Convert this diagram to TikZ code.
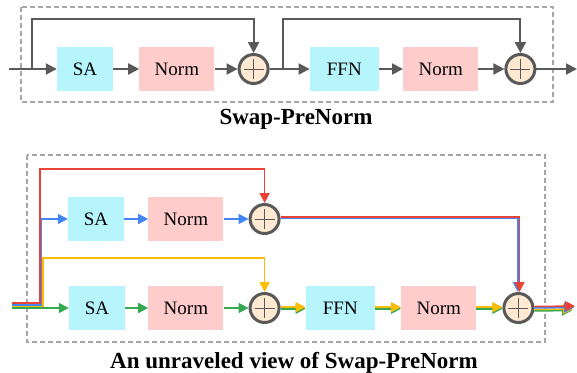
\documentclass[tikz,border=0pt]{standalone}
\usepackage{fontspec}
\setmainfont{Liberation Serif}
\usetikzlibrary{arrows.meta,positioning,calc}
\definecolor{linegray}{RGB}{89,89,89}
\definecolor{boxgray}{RGB}{166,166,166}
\definecolor{sacyan}{RGB}{183,245,252}
\definecolor{normpink}{RGB}{255,204,204}
\definecolor{addfill}{RGB}{255,233,210}
\definecolor{redp}{RGB}{234,67,53}
\definecolor{bluep}{RGB}{66,133,244}
\definecolor{yellowp}{RGB}{251,188,5}
\definecolor{greenp}{RGB}{52,168,83}
\tikzset{
          block/.style={
            minimum height=44pt,
            inner sep=0pt,
            font=\fontsize{19}{22}\selectfont
          },
          sablock/.style={block,fill=sacyan,minimum width=56pt},
          ffnblock/.style={block,fill=sacyan,minimum width=69pt},
          normblock/.style={block,fill=normpink,minimum width=75pt},
          adder/.style={
            circle,draw=linegray,line width=3pt,fill=addfill,
            minimum size=29pt,inner sep=0pt,
            path picture={
              \draw[linegray,line width=0.9pt]
              ([xshift=-10pt]path picture bounding box.center) --
              ([xshift=10pt]path picture bounding box.center)
              ([yshift=-10pt]path picture bounding box.center) --
              ([yshift=10pt]path picture bounding box.center);}
          },
          frame/.style={draw=boxgray,line width=1.1pt,dash pattern=on 5pt off 3pt},
          caption/.style={font=\fontsize{23}{26}\selectfont\bfseries,anchor=base},
          flow/.style={linegray,line width=2pt,-{Triangle[length=11pt,width=11pt]}},
          cflow/.style={line width=1.5pt,-{Triangle[length=10pt,width=10pt]}}
        }
\begin{document}
\begin{tikzpicture}[x=1pt,y=-1pt]
  \useasboundingbox (0,0) rectangle (577,372);

  % Swap-PreNorm
  \draw[frame] (21,7) rectangle (553,102);
  \coordinate (in1) at (9,69);
  \coordinate (br1) at (32,69);
  \coordinate (br2) at (283,69);
  \coordinate (out1) at (577,69);
  \node[sablock] (sa1) at (85,69) {SA};
  \node[normblock,right=26pt of sa1] (norm1) {Norm};
  \node[adder,right=23pt of norm1] (add1) {};
  \node[ffnblock,right=40pt of add1] (ffn1) {FFN};
  \node[normblock,right=24pt of ffn1] (norm2) {Norm};
  \node[adder,right=26pt of norm2] (add2) {};

  \draw[flow] (in1) -- (sa1);
  \draw[flow] (br1) -- ++(0,-50) -| (add1);
  \draw[flow] (sa1) -- (norm1);
  \draw[flow] (norm1) -- (add1);
  \draw[flow] (add1) -- (ffn1);
  \draw[flow] (br2) -- ++(0,-50) -| (add2);
  \draw[flow] (ffn1) -- (norm2);
  \draw[flow] (norm2) -- (add2);
  \draw[flow] (add2) -- (out1);

  \node[caption] (cap1) at (296,124) {Swap-PreNorm};

  % unraveled view
  \draw[frame] (27,155) rectangle (545,342);
  \coordinate (in2) at (12,308);
  \coordinate (out2) at (575,307.5);
  \node[sablock] (sa2) at (96,219) {SA};
  \node[normblock,right=24pt of sa2] (norm3) {Norm};
  \node[adder,right=25pt of norm3] (add3) {};
  \node[sablock] (sa3) at (97,308) {SA};
  \node[normblock,right=23pt of sa3] (norm4) {Norm};
  \node[adder,right=25pt of norm4] (add4) {};
  \node[ffnblock,right=25pt of add4] (ffn2) {FFN};
  \node[normblock,right=26pt of ffn2] (norm5) {Norm};
  \node[adder,right=26pt of norm5] (add5) {};

  % paths in
  \draw[cflow,redp] ($(in2)+(0,-4.8)$) -| (40,169) -| (add3);
  \draw[cflow,bluep] ($(in2)+(0,-3.2)$) -| (41.5,219) -- (sa2);
  \draw[cflow,yellowp] ($(in2)+(0,-1.6)$) -| (43,258) -| (add4);
  \draw[cflow,greenp] (in2) -- (sa3);

  \draw[cflow,bluep] (sa2) -- (norm3);
  \draw[cflow,bluep] (norm3) -- (add3);
  \draw[cflow,greenp] (sa3) -- (norm4);
  \draw[cflow,greenp] (norm4) -- (add4);

  % shared path
  \foreach \a/\b in {add4/ffn2,ffn2/norm5,norm5/add5}{
    \draw[cflow,greenp] ($(\a.east)+(0,0.8)$) -- ($(\b.west)+(0,0.8)$);
    \draw[cflow,yellowp] ($(\a.east)+(0,-0.8)$) -- ($(\b.west)+(0,-0.8)$);
  }

  \draw[cflow,bluep] ($(add3.east)+(0,-0.5)$) -| ($(add5.north)+(-0.6,0)$);
  \draw[cflow,redp] ($(add3.east)+(0,-2.1)$) -| ($(add5.north)+(1.1,0)$);

  % out
  \draw[cflow,greenp] ($(add5.east)+(0,3)$) -- ($(out2)+(-3,3)$);
  \draw[cflow,yellowp] ($(add5.east)+(0,1.5)$) -- ($(out2)+(-2,1.5)$);
  \draw[cflow,bluep] (add5.east) -- ($(out2)+(-1,0)$);
  \draw[cflow,redp] ($(add5.east)+(0,-1.5)$) -- ($(out2)+(0,-1.5)$);

  \node[caption] (cap2) at (294,368) {An unraveled view of Swap-PreNorm};
\end{tikzpicture}
\end{document}
